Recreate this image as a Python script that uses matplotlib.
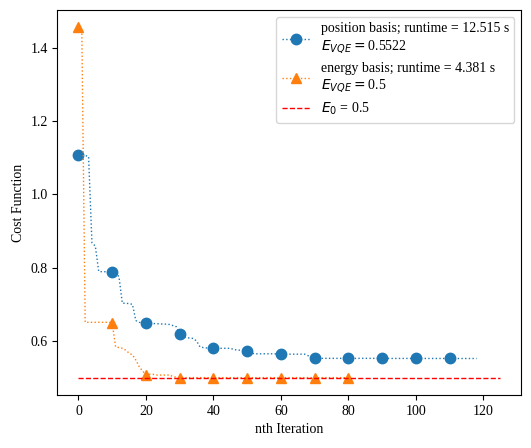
import numpy as np
import matplotlib
matplotlib.use("Agg")
import matplotlib.pyplot as plt

plt.rcParams['font.family'] = ['Liberation Serif', 'DejaVu Serif']

# cost per iteration, position basis
cost_pos = [1.107, 1.107, 1.106, 1.104, 0.868, 0.859, 0.790, 0.789, 0.789, 0.788,
            0.788, 0.785, 0.776, 0.703, 0.703, 0.702, 0.700, 0.656, 0.651, 0.650,
            0.649, 0.649, 0.648, 0.647, 0.647, 0.646, 0.646, 0.645, 0.642, 0.639,
            0.619, 0.612, 0.609, 0.608, 0.607, 0.600, 0.584, 0.582, 0.581, 0.581,
            0.580, 0.580, 0.580, 0.580, 0.580, 0.580, 0.577, 0.575, 0.575, 0.575,
            0.574, 0.569, 0.565, 0.565, 0.565, 0.565, 0.565, 0.565, 0.565, 0.565,
            0.564, 0.564, 0.564, 0.564, 0.564, 0.564, 0.564, 0.564, 0.560, 0.555,
            0.5526, 0.5526, 0.5526, 0.5526, 0.5526, 0.5526, 0.5526, 0.5526, 0.5526, 0.5526,
            0.5526, 0.5526, 0.5526, 0.5526, 0.5526, 0.5526, 0.5526, 0.5526, 0.5526, 0.5526,
            0.5524, 0.5524, 0.5524, 0.5524, 0.5524, 0.5524, 0.5524, 0.5524, 0.5524, 0.5524,
            0.5523, 0.5523, 0.5523, 0.5523, 0.5523, 0.5523, 0.5523, 0.5523, 0.5523, 0.5523,
            0.5522, 0.5522, 0.5522, 0.5522, 0.5522, 0.5522, 0.5522, 0.5522, 0.5522]

# cost per iteration, energy basis
cost_en = [1.456, 1.445, 0.651, 0.651, 0.651, 0.651, 0.651, 0.651, 0.651, 0.651,
           0.650, 0.584, 0.582, 0.580, 0.575, 0.567, 0.562, 0.548, 0.530, 0.518,
           0.508, 0.509, 0.509, 0.507, 0.507, 0.507, 0.507, 0.507, 0.503, 0.501,
           0.500, 0.500, 0.500, 0.500, 0.500, 0.500, 0.500, 0.500, 0.500, 0.500,
           0.500, 0.500, 0.500, 0.500, 0.500, 0.500, 0.500, 0.500, 0.500, 0.500,
           0.500, 0.500, 0.500, 0.500, 0.500, 0.500, 0.500, 0.500, 0.500, 0.500,
           0.500, 0.500, 0.500, 0.500, 0.500, 0.500, 0.500, 0.500, 0.500, 0.500,
           0.500, 0.500, 0.500, 0.500, 0.500, 0.500, 0.500, 0.500, 0.500, 0.500,
           0.500]

E0 = 0.5
x_end = 125

fig = plt.figure(figsize=(5.31, 4.48), dpi=100)
ax = fig.add_subplot(111)
fig.subplots_adjust(left=0.108, right=0.982, top=0.978, bottom=0.118)

ax.plot(np.arange(len(cost_pos)), cost_pos, ':', lw=1, marker='o', markevery=10, markersize=7.5,
        color='C0', label='position basis; runtime = 12.515 s\n$E_{VQE} =$0.5522')
ax.plot(np.arange(len(cost_en)), cost_en, ':', lw=1, marker='^', markevery=10, markersize=7.5,
        color='C1', label='energy basis; runtime = 4.381 s\n$E_{VQE} =$0.5')
ax.plot([0, x_end], [E0, E0], '--', color='r', linewidth=1, label='$E_0$ = 0.5')

ax.set_xlabel('nth Iteration')
ax.set_ylabel('Cost Function')
ax.legend(loc='upper right')

plt.savefig('out.png', dpi=100)
